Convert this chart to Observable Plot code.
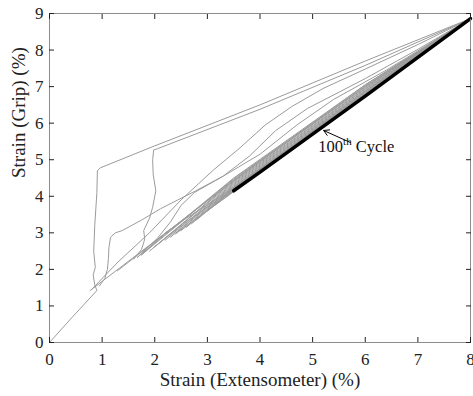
<!DOCTYPE html>
<html><head><meta charset="utf-8">
<script src="https://cdn.jsdelivr.net/npm/d3@7"></script>
<script src="https://cdn.jsdelivr.net/npm/@observablehq/plot@0.6"></script>
<style>
body{margin:0;background:#fff}
svg{font-family:"Liberation Serif","Times New Roman",serif}
</style>
</head><body><div id="chart"></div>
<script>
// ---- data (strain %) ----
const xTicks = [0,1,2,3,4,5,6,7,8];
const yTicks = [0,1,2,3,4,5,6,7,8,9];
const xTitle = "Strain (Extensometer) (%)";
const yTitle = "Strain (Grip) (%)";

// loading branches (gray)
const load1 = [[0,0],[0.45,0.72],[0.9,1.42],[0.86,1.58],[0.83,1.85],[0.87,2.05],[0.84,2.5],[0.86,3.2],[0.9,4.1],[0.91,4.7],[0.97,4.78],[2,5.38],[4,6.5],[6,7.7],[8,8.86]];
const load2 = [[1.6,2.28],[1.75,2.55],[1.81,2.83],[1.79,3.06],[1.9,3.4],[1.96,3.7],[2.02,4.15],[1.97,4.6],[1.96,5.0],[1.98,5.27],[2.05,5.3],[4,6.38],[6,7.58],[8,8.86]];
const load3 = [[0.8,1.45],[1.3,2.2],[1.9,3.0],[2.5,3.9],[3.1,4.7],[3.6,5.3],[4.1,5.95],[4.6,6.45],[5.2,6.95],[6,7.48],[7,8.15],[8,8.86]];
const load4 = [[0.95,1.55],[1.05,1.75],[1.1,2.0],[1.12,2.3],[1.13,2.6],[1.16,2.88],[1.25,3.0],[1.38,3.06],[1.75,3.35],[2.11,3.66],[2.78,4.15],[3.3,4.55],[3.8,5.1],[4.3,5.8],[4.9,6.4],[6,7.22],[7,8.02],[8,8.86]];
const load5 = [[1.67,2.33],[2.05,2.85],[2.3,3.3],[2.5,3.75],[2.75,4.1],[3.3,4.55],[4.0,5.15],[4.7,5.95],[5.4,6.65],[6.4,7.45],[8,8.86]];
const load6 = [[1.75,2.4],[2.2,3.0],[2.6,3.4],[3.2,3.95],[4.0,4.75],[4.8,5.55],[5.5,6.3],[6.4,7.2],[8,8.86]];
const load7 = [[2.0,2.62],[2.6,3.3],[3.2,3.9],[3.9,4.6],[4.6,5.35],[5.3,6.1],[6.2,6.95],[8,8.86]];
const load8 = [[2.4,2.98],[3.0,3.6],[3.6,4.25],[4.3,4.98],[5.0,5.75],[5.8,6.6],[6.8,7.6],[8,8.86]];
const load9 = [[2.8,3.4],[3.4,4.02],[4.0,4.7],[4.8,5.5],[5.6,6.35],[6.6,7.4],[8,8.86]];

// unloading branches (gray band)
const unload1  = [[0.77,1.42],[3.5,4.42],[6,7.02],[8,8.86]];
const unload2  = [[1.29,1.96],[3.5,4.45],[6,7.05],[8,8.86]];
const unload3  = [[1.67,2.33],[3.5,4.5],[6,7.05],[8,8.86]];
const unload4  = [[1.75,2.4],[3.5,4.48],[6,7.0],[8,8.86]];
const unload5  = [[1.9,2.5],[3.5,4.44],[6,6.98],[8,8.86]];
const unload6  = [[2.0,2.62],[3.5,4.4],[6,6.95],[8,8.86]];
const unload7  = [[2.2,2.8],[3.5,4.37],[6,6.93],[8,8.86]];
const unload8  = [[2.3,2.88],[3.5,4.34],[6,6.9],[8,8.86]];
const unload9  = [[2.4,2.98],[3.5,4.31],[6,6.88],[8,8.86]];
const unload10 = [[2.5,3.06],[3.5,4.28],[6,6.86],[8,8.86]];
const unload11 = [[2.6,3.15],[3.5,4.25],[6,6.84],[8,8.86]];
const unload12 = [[2.7,3.25],[3.5,4.23],[6,6.82],[8,8.86]];
const unload13 = [[2.8,3.36],[3.5,4.21],[6,6.8],[8,8.86]];
const unload14 = [[3.0,3.6],[3.5,4.2],[6,6.78],[8,8.86]];
const unload15 = [[3.2,3.85],[4.5,5.2],[6,6.77],[8,8.86]];
const unload16 = [[3.35,4.0],[4.5,5.18],[6,6.76],[8,8.86]];

// 100th cycle (black)
const cycle100 = [[3.5,4.15],[4,4.66],[5,5.7],[6,6.74],[7,7.8],[8,8.86]];

// annotation
const annArrow = [{x1:5.72, y1:5.47, x2:5.21, y2:5.8}];
const annLabel = {x:5.84, y:5.2, main:"100", sup:"th", rest:" Cycle"};

// ---- build tables ----
const grayCurves = {load1,load2,load3,load4,load5,load6,load7,load8,load9,
  unload1,unload2,unload3,unload4,unload5,unload6,unload7,unload8,unload9,unload10,unload11,unload12,unload13,unload14,unload15,unload16};
const grayRows = Object.entries(grayCurves).flatMap(([id,pts]) => pts.map(([x,y]) => ({id,x,y})));
const blackRows = cycle100.map(([x,y]) => ({x,y}));

const plot = Plot.plot({
  width: 473, height: 396,
  marginLeft: 49, marginRight: 3, marginTop: 13, marginBottom: 54,
  x: {domain: [0,8]},
  y: {domain: [0,9]},
  style: {fontFamily: '"Liberation Serif","Times New Roman",serif', fontSize: "17px", color: "#222", background: "white"},
  marks: [
    Plot.line(grayRows, {x:"x", y:"y", z:"id", stroke:"#9b9b9b", strokeWidth:1}),
    Plot.line(blackRows, {x:"x", y:"y", stroke:"black", strokeWidth:3.5}),
    Plot.frame({stroke:"#8c8c8c"}),
    Plot.axisX(xTicks, {anchor:"bottom", tickSize:-5, tickFormat:()=>"", label:null, stroke:"#222"}),
    Plot.axisX(xTicks, {anchor:"top", tickSize:-5, tickFormat:()=>"", label:null, stroke:"#222"}),
    Plot.axisY(yTicks, {anchor:"left", tickSize:-5, tickFormat:()=>"", label:null, stroke:"#222"}),
    Plot.axisY(yTicks, {anchor:"right", tickSize:-5, tickFormat:()=>"", label:null, stroke:"#222"}),
    Plot.axisX(xTicks, {anchor:"bottom", tickSize:0, tickPadding:10, label:null, fontSize:17}),
    Plot.axisY(yTicks, {anchor:"left", tickSize:0, tickPadding:6, label:null, fontSize:17}),
    Plot.text([xTitle], {text:d=>d, frameAnchor:"bottom", dy:43, fontSize:19, fill:"#222"}),
    Plot.text([yTitle], {text:d=>d, frameAnchor:"left", dx:-31, rotate:-90, fontSize:19, fill:"#222"}),
    Plot.arrow(annArrow, {x1:"x1", y1:"y1", x2:"x2", y2:"y2", stroke:"black", strokeWidth:1, headLength:9})
  ]
});

const svg = d3.select(plot);
const sx = plot.scale("x"), sy = plot.scale("y");
const t = svg.append("text")
  .attr("x", sx.apply(annLabel.x)).attr("y", sy.apply(annLabel.y))
  .attr("font-size", 16.5).attr("fill", "#111")
  .attr("font-family", '"Liberation Serif","Times New Roman",serif');
t.append("tspan").text(annLabel.main);
t.append("tspan").attr("font-size", 11).attr("dy", -7).text(annLabel.sup);
t.append("tspan").attr("dy", 7).text(annLabel.rest);

document.getElementById("chart").appendChild(plot);
</script>
</body></html>
